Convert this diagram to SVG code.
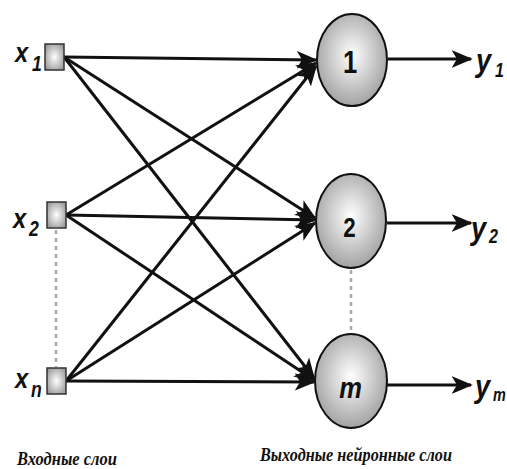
<svg xmlns="http://www.w3.org/2000/svg" width="507" height="469" viewBox="0 0 507 469">
<style>
.c{stroke:#111;stroke-width:3;fill:none;marker-end:url(#ah)}
.dot{stroke:#aaa;stroke-width:2.5;stroke-dasharray:4 4;fill:none}
.sq{fill:url(#gs);stroke:#333;stroke-width:1.5}
.nd{fill:url(#gn);stroke:#111;stroke-width:2}
.lab{font-family:"Liberation Sans",Arial,sans-serif;font-weight:bold;font-style:italic;fill:#111}
.num{font-family:"Liberation Sans",Arial,sans-serif;font-weight:bold;fill:#111;text-anchor:middle}
.cap{font-family:"Liberation Serif","Times New Roman",serif;font-style:italic;font-weight:bold;font-size:18px;fill:#111}
</style>
<defs>
<radialGradient id="gn" cx="0.5" cy="0.45" r="0.6">
<stop offset="0" stop-color="#ffffff"/>
<stop offset="1" stop-color="#9a9a9a"/>
</radialGradient>
<radialGradient id="gs" cx="0.5" cy="0.5" r="0.6">
<stop offset="0" stop-color="#ffffff"/>
<stop offset="1" stop-color="#9a9a9a"/>
</radialGradient>
<marker id="ah" viewBox="0 0 12 10" refX="11" refY="5" markerWidth="7" markerHeight="6" orient="auto" markerUnits="strokeWidth">
<path d="M0,0 L12,5 L0,10 L3,5 Z" fill="#111"/>
</marker>
</defs>
<g id="connectors">
<line class="c" x1="64" y1="57" x2="316" y2="60"/>
<line class="c" x1="64" y1="57" x2="315" y2="218"/>
<line class="c" x1="64" y1="57" x2="314" y2="378"/>
<line class="c" x1="66" y1="215" x2="316" y2="63"/>
<line class="c" x1="66" y1="215" x2="315" y2="220"/>
<line class="c" x1="66" y1="215" x2="314" y2="380"/>
<line class="c" x1="66" y1="381" x2="316" y2="66"/>
<line class="c" x1="66" y1="381" x2="315" y2="223"/>
<line class="c" x1="66" y1="381" x2="314" y2="382"/>
<line class="c" x1="388" y1="59" x2="471" y2="59"/>
<line class="c" x1="387" y1="223" x2="471" y2="223"/>
<line class="c" x1="387" y1="385" x2="471" y2="385"/>
<line class="dot" x1="56" y1="230" x2="56" y2="367"/>
<line class="dot" x1="351" y1="270" x2="351" y2="332"/>
</g>
<g id="x1"><rect class="sq" x="45" y="44" width="19" height="26"/><text class="lab" transform="translate(15,62) scale(0.85,1)" font-size="28">x</text><text class="lab" transform="translate(32,71) scale(0.8,1)" font-size="22">1</text></g>
<g id="x2"><rect class="sq" x="47" y="202" width="19" height="26"/><text class="lab" transform="translate(13,228) scale(0.85,1)" font-size="28">x</text><text class="lab" transform="translate(29,236) scale(0.8,1)" font-size="22">2</text></g>
<g id="xn"><rect class="sq" x="47" y="368" width="19" height="26"/><text class="lab" transform="translate(15,388) scale(0.85,1)" font-size="28">x</text><text class="lab" transform="translate(31,397) scale(0.8,1)" font-size="22">n</text></g>
<g id="n1"><ellipse class="nd" cx="352" cy="60" rx="35" ry="46"/><text class="num" transform="translate(350,73) scale(0.8,1)" font-size="32">1</text></g>
<g id="n2"><ellipse class="nd" cx="351" cy="221" rx="35" ry="47"/><text class="num" transform="translate(349.5,237) scale(0.8,1)" font-size="28">2</text></g>
<g id="nm"><ellipse class="nd" cx="351" cy="381" rx="36" ry="47"/><text class="num" transform="translate(350.5,398) scale(0.85,1)" font-size="30" font-style="italic">m</text></g>
<g id="y1"><text class="lab" transform="translate(476,71) scale(0.85,1)" font-size="32">y</text><text class="lab" transform="translate(495,77) scale(0.8,1)" font-size="20">1</text></g>
<g id="y2"><text class="lab" transform="translate(471,239) scale(0.85,1)" font-size="32">y</text><text class="lab" transform="translate(489,243) scale(0.8,1)" font-size="20">2</text></g>
<g id="ym"><text class="lab" transform="translate(475,397) scale(0.85,1)" font-size="32">y</text><text class="lab" transform="translate(493,401) scale(0.8,1)" font-size="18">m</text></g>
<text class="cap" x="17" y="465" textLength="100" lengthAdjust="spacingAndGlyphs">Входные слои</text>
<text class="cap" x="260" y="461" textLength="192" lengthAdjust="spacingAndGlyphs">Выходные нейронные слои</text>
</svg>
